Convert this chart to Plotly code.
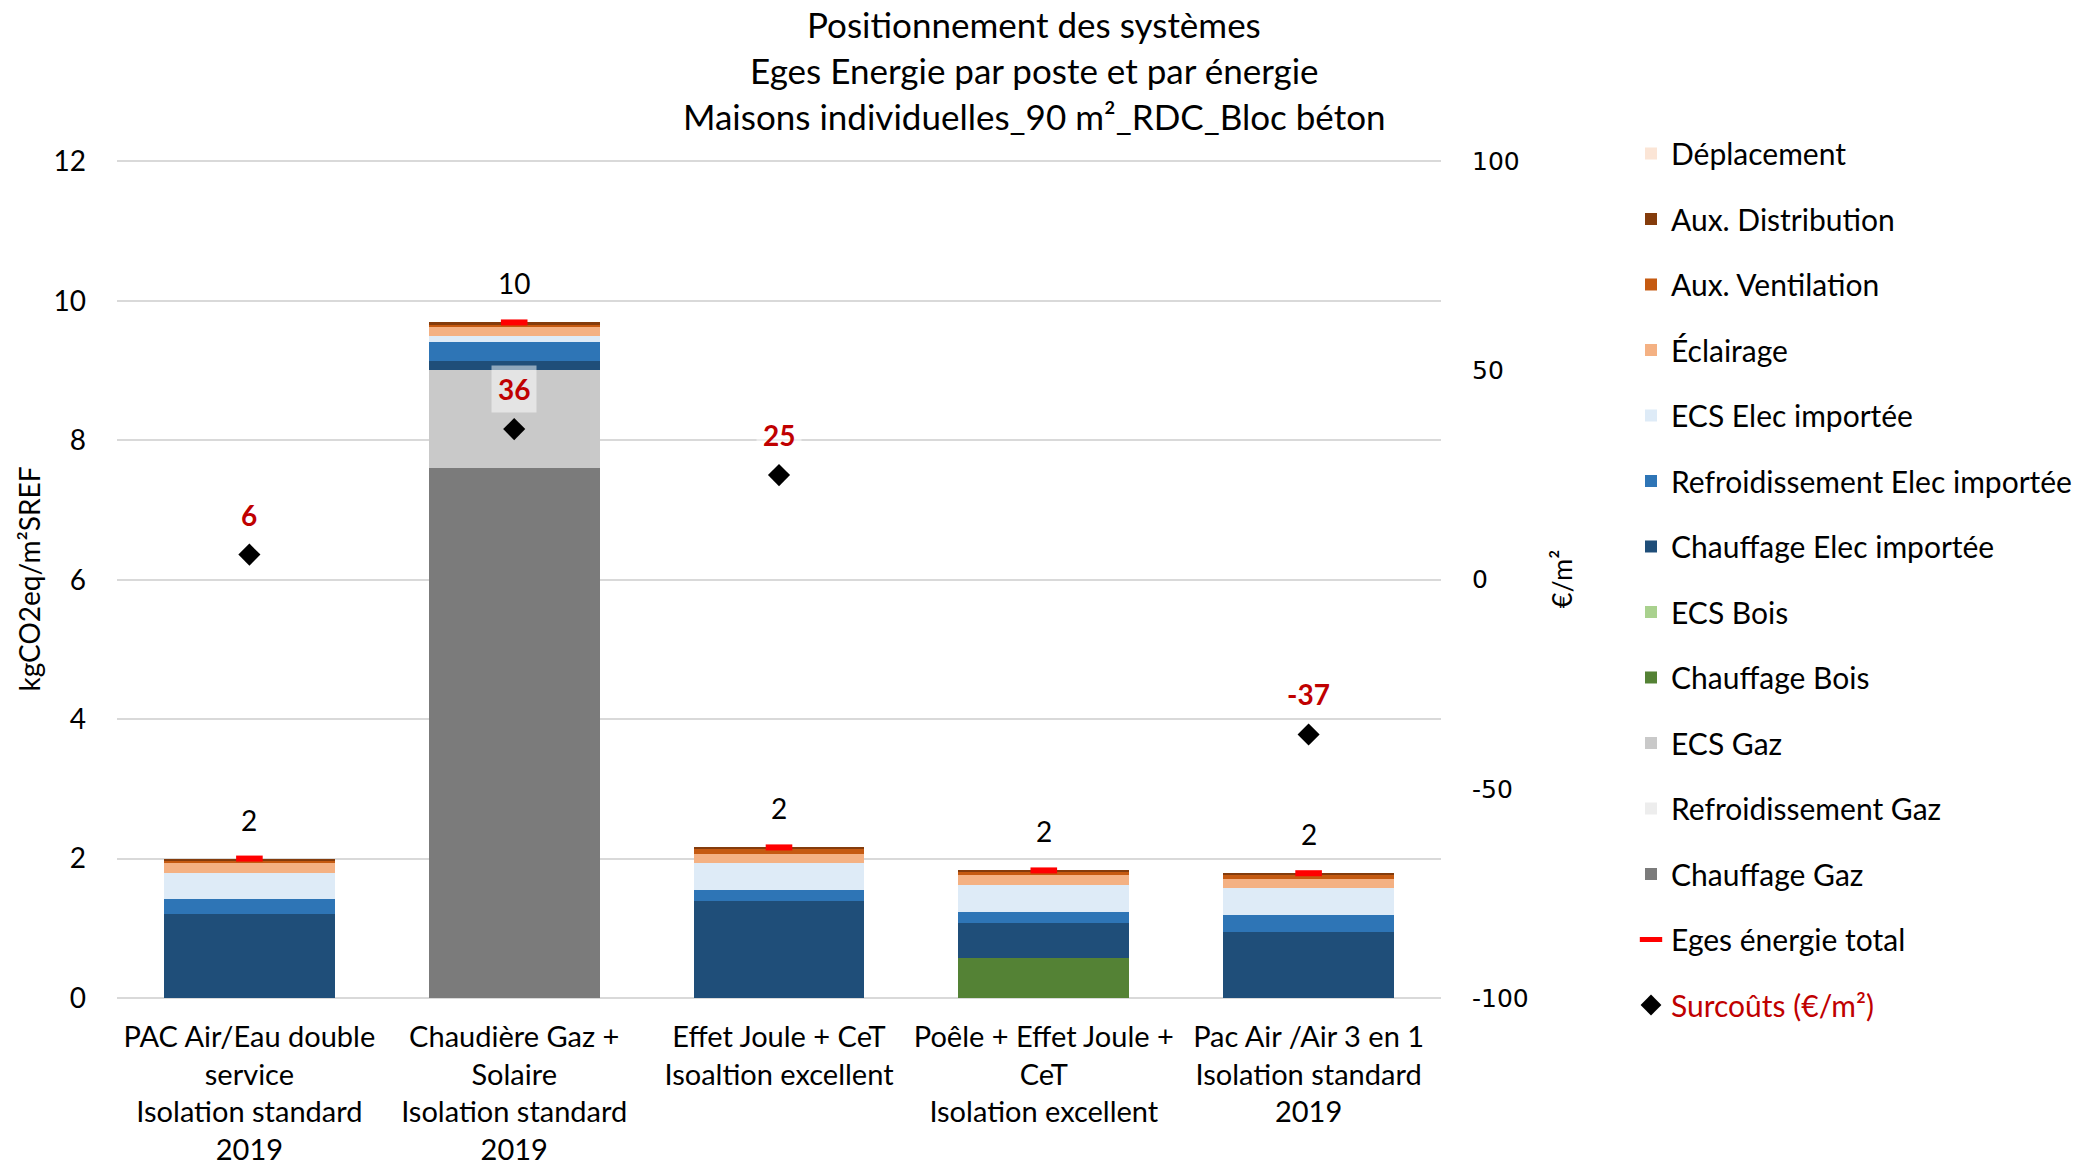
import plotly.graph_objects as go

categories = [
    "PAC Air/Eau double<br>service<br>Isolation standard<br>2019",
    "Chaudière Gaz +<br>Solaire<br>Isolation standard<br>2019",
    "Effet Joule + CeT<br>Isoaltion excellent",
    "Poêle + Effet Joule +<br>CeT<br>Isolation excellent",
    "Pac Air /Air 3 en 1<br>Isolation standard<br>2019",
]

chauffage_gaz = [0, 7.60, 0, 0, 0]
refroid_gaz = [0, 0, 0, 0, 0]
ecs_gaz = [0, 1.41, 0, 0, 0]
chauffage_bois = [0, 0, 0, 0.57, 0]
ecs_bois = [0, 0, 0, 0, 0]
chauffage_elec = [1.20, 0.13, 1.39, 0.50, 0.94]
refroid_elec = [0.22, 0.27, 0.16, 0.17, 0.25]
ecs_elec = [0.38, 0.08, 0.39, 0.38, 0.39]
eclairage = [0.13, 0.14, 0.13, 0.14, 0.13]
aux_ventilation = [0.04, 0.03, 0.07, 0.05, 0.06]
aux_distribution = [0.03, 0.03, 0.02, 0.02, 0.02]
deplacement = [0, 0, 0, 0, 0]

eges_total = [2.00, 9.69, 2.16, 1.83, 1.79]
surcouts = [6, 36, 25, None, -37]

y_ticks = [0, 2, 4, 6, 8, 10, 12]
y2_ticks = [-100, -50, 0, 50, 100]

title_lines = [
    "Positionnement des systèmes",
    "Eges Energie par poste et par énergie",
    "Maisons individuelles_90 m²_RDC_Bloc béton",
]

FONT = "Lato"
W, H = 2092, 1170
L, R, T, B = 117, 651, 160, 172
plot_h = H - T - B
plot_w = W - L - R

bar_series = [
    ("Chauffage Gaz", chauffage_gaz, "#7B7B7B"),
    ("Refroidissement Gaz", refroid_gaz, "#EDEDED"),
    ("ECS Gaz", ecs_gaz, "#C9C9C9"),
    ("Chauffage Bois", chauffage_bois, "#548235"),
    ("ECS Bois", ecs_bois, "#A9D18E"),
    ("Chauffage Elec importée", chauffage_elec, "#1F4E79"),
    ("Refroidissement Elec importée", refroid_elec, "#2E75B6"),
    ("ECS Elec importée", ecs_elec, "#DEEBF7"),
    ("Éclairage", eclairage, "#F4B183"),
    ("Aux. Ventilation", aux_ventilation, "#C55A11"),
    ("Aux. Distribution", aux_distribution, "#843C0C"),
    ("Déplacement", deplacement, "#FBE5D6"),
]
n_bars = len(bar_series)

fig = go.Figure()

for i, (name, vals, col) in enumerate(bar_series):
    fig.add_trace(go.Bar(
        x=categories, y=vals, name=name, marker=dict(color=col, line=dict(width=0)),
        legendgroup=f"b{i}", legendrank=n_bars - i,
    ))
fig.add_trace(go.Scatter(
    x=categories, y=eges_total, name="Eges énergie total", mode="markers",
    marker=dict(symbol="line-ew", size=19, line=dict(color="#FF0000", width=6)),
    legendgroup="g1", legendrank=n_bars + 1,
))
fig.add_trace(go.Scatter(
    x=categories, y=surcouts, name="<span style='color:#C00000'>Surcoûts (€/m²)</span>",
    mode="markers", marker=dict(symbol="diamond", size=17, color="black"),
    yaxis="y2", legendgroup="g0", legendrank=n_bars + 2,
))

annotations = []
title_y_px = [24, 70, 116]
for line, ypix in zip(title_lines, title_y_px):
    annotations.append(dict(
        text=line, xref="paper", yref="paper",
        x=(1034 - L) / plot_w, y=(H - B - ypix) / plot_h,
        xanchor="center", yanchor="middle", showarrow=False,
        font=dict(family=FONT, size=35, color="#000000"),
    ))
for c, v in zip(categories, eges_total):
    annotations.append(dict(
        text=f"{v:.0f}", x=c, y=v, xref="x", yref="y", yshift=39,
        showarrow=False, font=dict(family=FONT, size=28, color="#000000"),
    ))
for c, v in zip(categories, surcouts):
    if v is None:
        continue
    annotations.append(dict(
        text=f"<b>{v:.0f}</b>", x=c, y=v, xref="x", yref="y2", yshift=40,
        showarrow=False, font=dict(family=FONT, size=28, color="#C00000"),
        bgcolor="rgba(255,255,255,0.5)", borderpad=6,
    ))

ytop = 12.02
y2top = -100 + 200 * ytop / 12

fig.update_layout(
    width=W, height=H,
    margin=dict(l=L, r=R, t=T, b=B, autoexpand=False),
    paper_bgcolor="white", plot_bgcolor="white",
    barmode="stack", bargap=0.355,
    font=dict(family=FONT, size=28, color="#000000"),
    showlegend=True,
    legend=dict(
        x=(1631 - L) / plot_w, xanchor="left", y=1.0388, yanchor="top",
        traceorder="grouped", tracegroupgap=23.5, maxheight=1100,
        font=dict(family=FONT, size=30, color="#000000"),
        bgcolor="rgba(0,0,0,0)",
    ),
    xaxis=dict(
        type="category", showgrid=False, ticks="", showline=False,
        tickfont=dict(family=FONT, size=29), ticklabelstandoff=19,
    ),
    yaxis=dict(
        range=[0, ytop], tickvals=y_ticks, ticktext=[str(t) for t in y_ticks],
        showgrid=True, gridcolor="#D9D9D9", gridwidth=1.5,
        zeroline=True, zerolinecolor="#D9D9D9", zerolinewidth=1.5,
        ticks="", ticklabelstandoff=30, showline=False,
        tickfont=dict(family=FONT, size=28),
        title=dict(text="kgCO2eq/m²SREF", font=dict(family=FONT, size=28), standoff=4),
    ),
    yaxis2=dict(
        range=[-100, y2top], overlaying="y", side="right",
        tickvals=y2_ticks, ticktext=[str(t) for t in y2_ticks],
        showgrid=False, zeroline=False, ticks="", ticklabelstandoff=30,
        tickfont=dict(family="DejaVu Sans", size=25),
        title=dict(text="€/m²", font=dict(family=FONT, size=27), standoff=25),
    ),
    annotations=annotations,
)

fig.write_html(
    "out.html",
    config={"displayModeBar": False},
    post_script="document.body.style.margin='0';document.body.style.overflow='hidden';",
)
